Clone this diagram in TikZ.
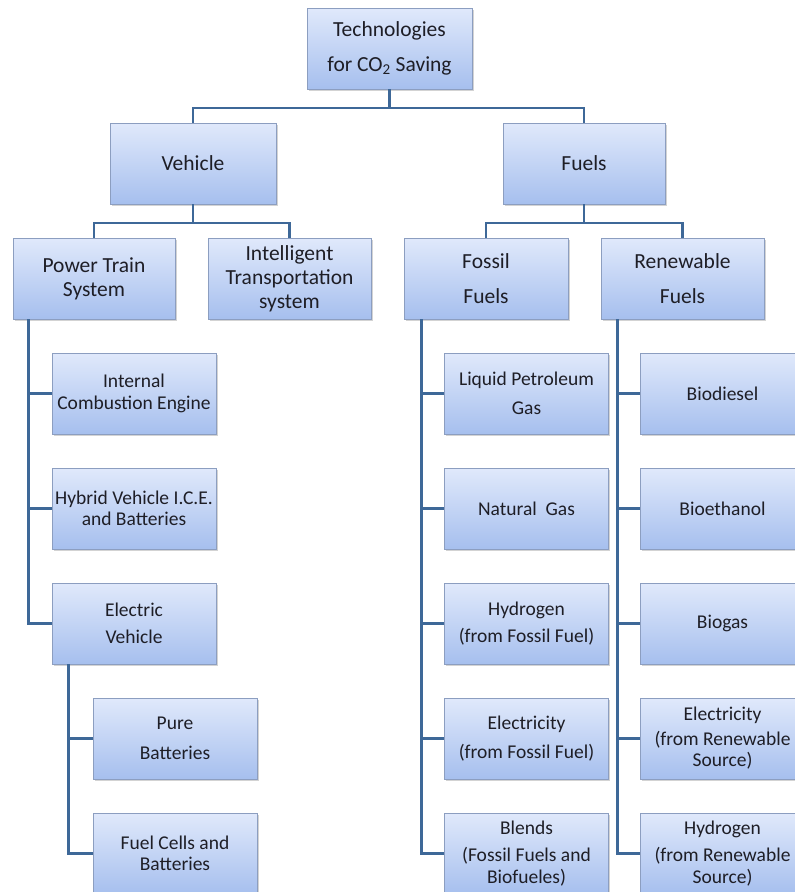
\documentclass[tikz,border=0pt]{standalone}
\usepackage{fontspec}
\setmainfont{Carlito}
\usetikzlibrary{shadows}
\definecolor{boxtop}{RGB}{224,233,251}
\definecolor{boxbot}{RGB}{166,191,238}
\definecolor{boxline}{RGB}{140,158,192}
\definecolor{linkblue}{RGB}{62,104,152}
\definecolor{boxtext}{RGB}{30,30,38}

\begin{document}
\begin{tikzpicture}[head node/.style={draw=boxline, line width=0.8pt,
      top color=boxtop, bottom color=boxbot,
      drop shadow={shadow xshift=1.5pt, shadow yshift=-2pt, opacity=0.35},
      minimum width=164pt, minimum height=81pt, inner sep=1pt,
      align=center, text=boxtext, font=\fontsize{21.5}{24}\selectfont},
    leaf node/.style={head node, font=\fontsize{19.5}{21.5}\selectfont},
    node distance=115pt,
    every edge/.style={draw=linkblue, line width=2.8pt},
    bus/.style={to path={-- ++(0,-18.5pt) -| (\tikztotarget)}},
    spur/.style={to path={|- (\tikztotarget)}}]
    \useasboundingbox (0,0) rectangle (795pt,-892pt);

    \node[head node, minimum width=165pt] (root) at (389.5pt,-48.5pt) {Technologies\\[11pt]for CO\textsubscript{2} Saving};

    \node[head node, minimum width=166pt] (vehicle) [below of=root, xshift=-196.5pt] {Vehicle};
    \node[head node, minimum width=162pt] (fuels) [below of=root, xshift=194.5pt] {Fuels};

    \node[head node, minimum width=162pt] (ptrain) [below of=vehicle, xshift=-99pt] {Power Train\\System};
    \node[head node, minimum width=163pt] (its) [below of=vehicle, xshift=96.5pt] {Intelligent\\Transportation\\system};
    \node[head node] (fossil) [below of=fuels, xshift=-98pt] {Fossil\\[11pt]Fuels};
    \node[head node, minimum width=163pt] (renew) [below of=fuels, xshift=98.5pt] {Renewable\\[11pt]Fuels};

    % power train branch
    \node[leaf node] (ice) [below of=ptrain, xshift=40pt] {Internal\\Combustion Engine};
    \node[leaf node] (hybrid) [below of=ice] {Hybrid Vehicle I.C.E.\\and Batteries};
    \node[leaf node] (ev) [below of=hybrid] {Electric\\[6pt]Vehicle};
    \node[leaf node] (pure) [below of=ev, xshift=41pt] {Pure\\[8pt]Batteries};
    \node[leaf node] (fcell) [below of=pure] {Fuel Cells and\\Batteries};

    % fossil branch
    \node[leaf node] (lpg) [below of=fossil, xshift=40.5pt] {Liquid Petroleum\\[8pt]Gas};
    \node[leaf node] (ng) [below of=lpg] {Natural~ Gas};
    \node[leaf node] (hfossil) [below of=ng] {Hydrogen\\[6pt](from Fossil Fuel)};
    \node[leaf node] (efossil) [below of=hfossil] {Electricity\\[8pt](from Fossil Fuel)};
    \node[leaf node] (blends) [below of=efossil] {Blends\\[6pt](Fossil Fuels and\\Biofueles)};

    % renewable branch
    \node[leaf node] (bdiesel) [below of=renew, xshift=40pt] {Biodiesel};
    \node[leaf node] (bethanol) [below of=bdiesel] {Bioethanol};
    \node[leaf node] (biogas) [below of=bethanol] {Biogas};
    \node[leaf node] (erenew) [below of=biogas] {Electricity\\[3pt](from Renewable\\Source)};
    \node[leaf node] (hrenew) [below of=erenew] {Hydrogen\\[6pt](from Renewable\\Source)};

    \path
    (root.south) edge[bus] (vehicle.north)
    (root.south) edge[bus] (fuels.north)
    (vehicle.south) edge[bus] (ptrain.north)
    (vehicle.south) edge[bus] (its.north)
    (fuels.south) edge[bus] (fossil.north)
    (fuels.south) edge[bus] (renew.north)

    ([xshift=16pt]ptrain.south west) edge[spur] (ice.west)
    ([xshift=16pt]ptrain.south west) edge[spur] (hybrid.west)
    ([xshift=16pt]ptrain.south west) edge[spur] (ev.west)
    ([xshift=17pt]ev.south west) edge[spur] (pure.west)
    ([xshift=17pt]ev.south west) edge[spur] (fcell.west)

    ([xshift=18pt]fossil.south west) edge[spur] (lpg.west)
    ([xshift=18pt]fossil.south west) edge[spur] (ng.west)
    ([xshift=18pt]fossil.south west) edge[spur] (hfossil.west)
    ([xshift=18pt]fossil.south west) edge[spur] (efossil.west)
    ([xshift=18pt]fossil.south west) edge[spur] (blends.west)

    ([xshift=17pt]renew.south west) edge[spur] (bdiesel.west)
    ([xshift=17pt]renew.south west) edge[spur] (bethanol.west)
    ([xshift=17pt]renew.south west) edge[spur] (biogas.west)
    ([xshift=17pt]renew.south west) edge[spur] (erenew.west)
    ([xshift=17pt]renew.south west) edge[spur] (hrenew.west);
  \end{tikzpicture}
\end{document}
